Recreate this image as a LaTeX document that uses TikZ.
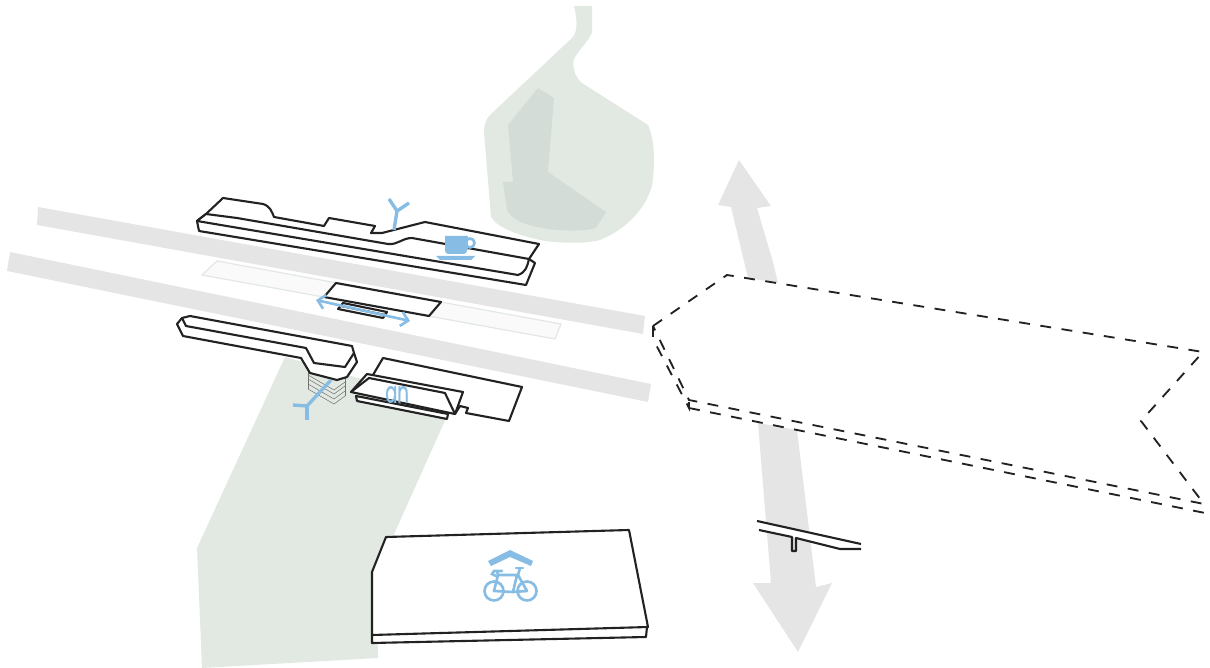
\documentclass[tikz,border=0pt]{standalone}
\usepackage{fontspec}
\usetikzlibrary{arrows.meta}
\newfontfamily\logofont[FakeBold=0.6]{Poppins}
\definecolor{parkgreen}{HTML}{E2E9E2}
\definecolor{pondgreen}{HTML}{D3DCD6}
\definecolor{roadgrey}{HTML}{E5E5E5}
\definecolor{iconblue}{HTML}{87BDE4}
\definecolor{inkblack}{HTML}{222222}
\begin{document}
\begin{tikzpicture}[
  x=0.02cm, y=-0.02cm,
  park/.style={fill=parkgreen, draw=none},
  pond/.style={fill=pondgreen, draw=none},
  road/.style={fill=roadgrey, draw=none},
  bldg/.style={draw=inkblack, fill=white, line width=1.2pt, line join=round},
  edge/.style={draw=inkblack, line width=1.2pt, line join=round},
  plan/.style={draw=inkblack, line width=1.05pt, dash pattern=on 6.2pt off 6pt},
  icon/.style={draw=iconblue, line width=1.5pt},
  wire/.style={draw=iconblue, line width=1.9pt},
  iconfill/.style={fill=iconblue, draw=none}
]
\useasboundingbox (0,0) rectangle (1210,668);

% ── Ground: park, water, roads ───────────────────────────────────────────────
\fill[park] (285,357) -- (452,405) -- (378,570) -- (378,658) -- (202,668) -- (197,548) -- cycle;

\fill[park] (574,6) -- (592,6) -- (592,33)
  .. controls (586,45) and (573,55) .. (573,64)
  .. controls (574,72) and (576,78) .. (582,83)
  -- (648,125)
  .. controls (655,140) and (655,165) .. (652,186)
  .. controls (645,210) and (625,230) .. (600,240)
  .. controls (585,244) and (560,243) .. (545,241)
  .. controls (520,236) and (497,228) .. (491,217)
  -- (484,132) .. controls (484,125) and (486,119) .. (490,115)
  -- (573,37) .. controls (578,30) and (577,18) .. (574,6) -- cycle;

\fill[pond] (538,88) -- (554,98) -- (548,172) -- (606,212) -- (596,228)
  .. controls (575,234) and (515,230) .. (507,210)
  -- (503,182) -- (513,182) -- (508,125) -- cycle;

\fill[road] (38,207) -- (645,316) -- (643,334) -- (37,225) -- cycle;
\fill[road] (10,252) -- (651,384) -- (648,402) -- (7,271) -- cycle;

% ── Movement arrows ──────────────────────────────────────────────────────────
\fill[road] (739,160) -- (771,206) -- (757,208) -- (773,262) -- (778,283)
  -- (748,278) -- (731,207) -- (718,205) -- cycle;
\fill[road] (758,423) -- (797,430) -- (816,587) -- (832,583) -- (798,652)
  -- (753,583) -- (771,583) -- cycle;

% ── Platform strip between the roads ─────────────────────────────────────────
\draw[draw=parkgreen, fill=black!2, line width=0.7pt] (217,261) -- (561,324) -- (555,339) -- (202,275) -- cycle;

% ── Northern building ────────────────────────────────────────────────────────
\draw[bldg] (206,214) -- (223,198) -- (263,204)
  .. controls (270,206) and (272,212) .. (274,217)
  -- (324,226) -- (329,218) -- (375,226) -- (371,233) -- (382,233)
  -- (425,222) -- (539,244) -- (529,259);
\draw[bldg] (206,214) -- (197,221) -- (199,231) -- (526,285) -- (535,263) -- (529,259);
\draw[bldg] (197,221) -- (206,214) -- (237,218) -- (388,244)
  .. controls (398,245) and (402,238) .. (412,238)
  -- (529,259) .. controls (527,267) and (526,272) .. (518,275) -- cycle;

\draw[wire] (394,230) -- (397,211) -- (389,199);
\draw[wire] (397,211) -- (409,203);

% coffee cup
\fill[iconfill] (445,236) -- (467,236) -- (467,250) .. controls (467,252) and (466,254) .. (464,254)
  -- (448,254) .. controls (446,254) and (445,252) .. (445,250) -- cycle;
\draw[icon] (470,243) circle (4.5);
\fill[iconfill] (467,236) rectangle (468,250);
\fill[iconfill] (436,256) -- (475,256) -- (471,260) -- (440,260) -- cycle;

% ── Kiosk on the platform ────────────────────────────────────────────────────
\draw[bldg] (336,283) -- (441,302) -- (429,316) -- (324,297) -- cycle;
\draw[bldg] (343,303) -- (387,312) -- (383,318) -- (338,309) -- cycle;
\draw[edge] (341,306) -- (385,315);
\draw[wire, line width=1.5pt, {Straight Barb[length=4pt,width=8pt]}-{Straight Barb[length=4pt,width=8pt]}] (316,300) -- (410,321);

% ── Southern building and stack ──────────────────────────────────────────────
\foreach \dy in {0,4,9,14} {
  \draw[draw=black!55, line width=0.3pt] (308,375+\dy) -- (334,390+\dy) -- (345,382+\dy);
}
\draw[draw=black!55, line width=0.3pt] (308,372) -- (308,389);
\draw[draw=black!55, line width=0.3pt] (345,378) -- (345,396);
\draw[bldg] (177,324) -- (182,318) -- (190,316) -- (352,346)
  -- (354,353) -- (357,362) -- (347,377) -- (337,380) -- (310,373) -- (301,358) -- (183,336) -- cycle;
\draw[edge] (182,318) -- (186,326) -- (306,348) -- (314,363) -- (345,367) -- (354,353);
\draw[wire] (331,380) -- (307,406) -- (293,405);
\draw[wire] (307,406) -- (307,420);

% ── Supermarket ──────────────────────────────────────────────────────────────
\draw[bldg] (383,358) -- (522,387) -- (509,421) -- (466,413) -- (468,408) -- (460,406) -- (455,414) -- (370,380) -- cycle;
\draw[bldg] (356,396) -- (448,414) -- (447,419) -- (357,401) -- cycle;
\draw[bldg] (351,392) -- (367,374) -- (463,392) -- (455,414) -- cycle;
\draw[edge] (351,392) -- (369,378) -- (445,393) -- (455,414);
\node[text=iconblue, font=\logofont\fontsize{17}{17}\selectfont, xscale=0.6, inner sep=0] (shoplogo) at (397,394.5) {an};

% ── Bicycle storage ──────────────────────────────────────────────────────────
\draw[bldg] (372,635) -- (372,643) -- (646,637) -- (647,627);
\draw[bldg] (386,537) -- (629,530) -- (648,627) -- (372,635) -- (372,572) -- cycle;

\fill[iconfill] (488,561) -- (510,550) -- (533,561) -- (531,566) -- (510,557) -- (491,566) -- cycle;
\draw[icon] (494,591) circle (9.5);
\draw[icon] (527,591) circle (9.5);
\draw[icon, line join=round] (494,591) -- (498,575) -- (517,575) -- (513,592) -- cycle;
\draw[icon, line join=round] (513,592) -- (527,591) -- (518,575) -- (520,568);
\draw[icon, line cap=round] (516,568) -- (523,568);
\draw[icon, line cap=round] (502,571) -- (494,571) -- (492,574) -- (496,576);
\draw[icon] (498,575) -- (497,571);

% ── Footbridge ───────────────────────────────────────────────────────────────
\fill[white] (757,521) -- (861,544) -- (861,549) -- (840,549) -- (796,538) -- (792,537) -- (759,530) -- cycle;
\draw[edge] (757,521) -- (861,544);
\draw[edge] (759,530) -- (792,537) -- (792,551) -- (796,551) -- (796,538) -- (840,549) -- (861,549);

% ── Planned development outline ──────────────────────────────────────────────
\draw[plan] (653,326) -- (727,275) -- (1203,352) -- (1141,421) -- (1204,504) -- (689,400) -- cycle;
\draw[plan] (653,326) -- (653,339) -- (689,408) -- (689,400);
\draw[plan] (689,408) -- (1205,513) -- (1204,504);

\end{tikzpicture}
\end{document}
